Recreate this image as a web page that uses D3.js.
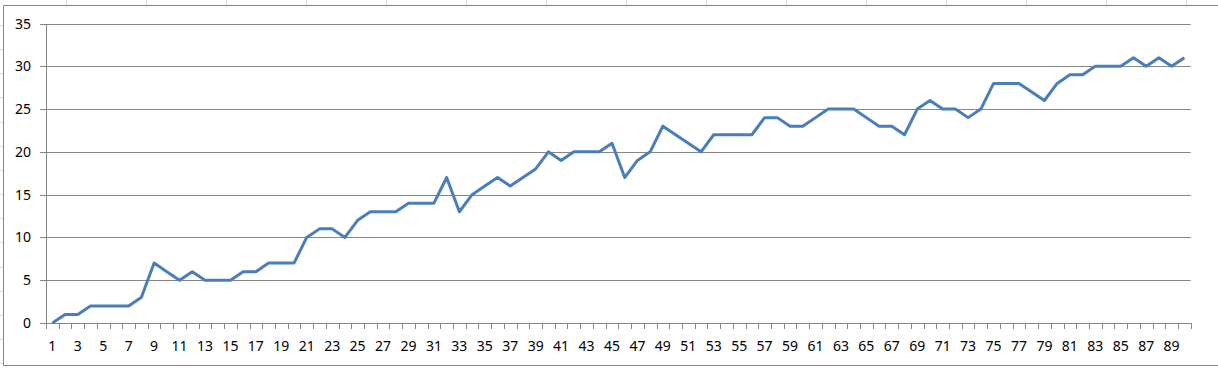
<!DOCTYPE html>
<html>
  <head>
    <meta charset="utf-8" />
    <script src="https://cdn.jsdelivr.net/npm/d3@7/dist/d3.min.js"></script>
    <style>
      body {
        margin: 0;
        background: white;
      }
      text {
        font-family: "Noto Sans", sans-serif;
        font-size: 14px;
        fill: #000;
      }
    </style>
  </head>
  <body>
    <svg id="chart"></svg>
    <script>
      // values, one per category 1..90
      const categories = d3.range(1, 91);
      const values = [
        0, 1, 1, 2, 2, 2, 2, 3, 7, 6,
        5, 6, 5, 5, 5, 6, 6, 7, 7, 7,
        10, 11, 11, 10, 12, 13, 13, 13, 14, 14,
        14, 17, 13, 15, 16, 17, 16, 17, 18, 20,
        19, 20, 20, 20, 21, 17, 19, 20, 23, 22,
        21, 20, 22, 22, 22, 22, 24, 24, 23, 23,
        24, 25, 25, 25, 24, 23, 23, 22, 25, 26,
        25, 25, 24, 25, 28, 28, 28, 27, 26, 28,
        29, 29, 30, 30, 30, 31, 30, 31, 30, 31
      ];
      const yTicks = [0, 5, 10, 15, 20, 25, 30, 35];
      const xTickLabels = categories.filter(d => d % 2 === 1);

      const width = 1218,
        height = 370;
      const plot = { left: 46, right: 1190.7, top: 23.5, bottom: 323 };
      const gridColor = "#868686";

      const svg = d3
        .select("#chart")
        .attr("width", width)
        .attr("height", height);

      // spreadsheet cells peeking out around the chart
      const sheet = svg.append("g").attr("stroke", "#d4dcea").attr("stroke-width", 1);
      sheet
        .selectAll("line.col")
        .data(d3.range(66.5, width, 80))
        .join("line")
        .attr("x1", d => d)
        .attr("x2", d => d)
        .attr("y1", 0)
        .attr("y2", 5);
      sheet
        .selectAll("line.row")
        .data(d3.range(25, height, 24.15))
        .join("line")
        .attr("x1", 0)
        .attr("x2", 3)
        .attr("y1", d => Math.round(d) + 0.5)
        .attr("y2", d => Math.round(d) + 0.5);

      // chart area border
      svg
        .append("path")
        .attr("d", `M${width},5.5 H3.5 V365.5 H${width}`)
        .attr("fill", "white")
        .attr("stroke", gridColor)
        .attr("stroke-width", 1);

      const x = d3
        .scaleBand()
        .domain(categories)
        .range([plot.left, plot.right]);

      const y = d3
        .scaleLinear()
        .domain([0, 35])
        .range([plot.bottom, plot.top]);

      // horizontal gridlines with small ticks to the left of the axis
      svg
        .append("g")
        .selectAll("line")
        .data(yTicks)
        .join("line")
        .attr("x1", plot.left - 6)
        .attr("x2", plot.right)
        .attr("y1", d => Math.round(y(d)) + 0.5)
        .attr("y2", d => Math.round(y(d)) + 0.5)
        .attr("stroke", gridColor);

      svg
        .append("g")
        .selectAll("text")
        .data(yTicks)
        .join("text")
        .attr("x", 31)
        .attr("y", d => y(d) + 5)
        .attr("text-anchor", "end")
        .text(d => d);

      // value axis line
      svg
        .append("line")
        .attr("x1", plot.left + 0.5)
        .attr("x2", plot.left + 0.5)
        .attr("y1", Math.round(plot.top))
        .attr("y2", plot.bottom)
        .attr("stroke", gridColor);

      // category axis: ticks between categories
      const boundaries = categories.map(d => x(d)).concat([plot.right]);
      svg
        .append("g")
        .selectAll("line")
        .data(boundaries)
        .join("line")
        .attr("x1", d => Math.round(d) + 0.5)
        .attr("x2", d => Math.round(d) + 0.5)
        .attr("y1", Math.round(plot.bottom))
        .attr("y2", Math.round(plot.bottom) + 6)
        .attr("stroke", gridColor);

      svg
        .append("g")
        .selectAll("text")
        .data(xTickLabels)
        .join("text")
        .attr("x", d => x(d) + x.bandwidth() / 2)
        .attr("y", 350.5)
        .attr("text-anchor", "middle")
        .text(d => d);

      const line = d3
        .line()
        .x((d, i) => x(categories[i]) + x.bandwidth() / 2)
        .y(d => y(d));

      svg
        .append("path")
        .datum(values)
        .attr("d", line)
        .attr("fill", "none")
        .attr("stroke", "#4a7ebb")
        .attr("stroke-width", 3)
        .attr("stroke-linejoin", "round");
    </script>
  </body>
</html>
